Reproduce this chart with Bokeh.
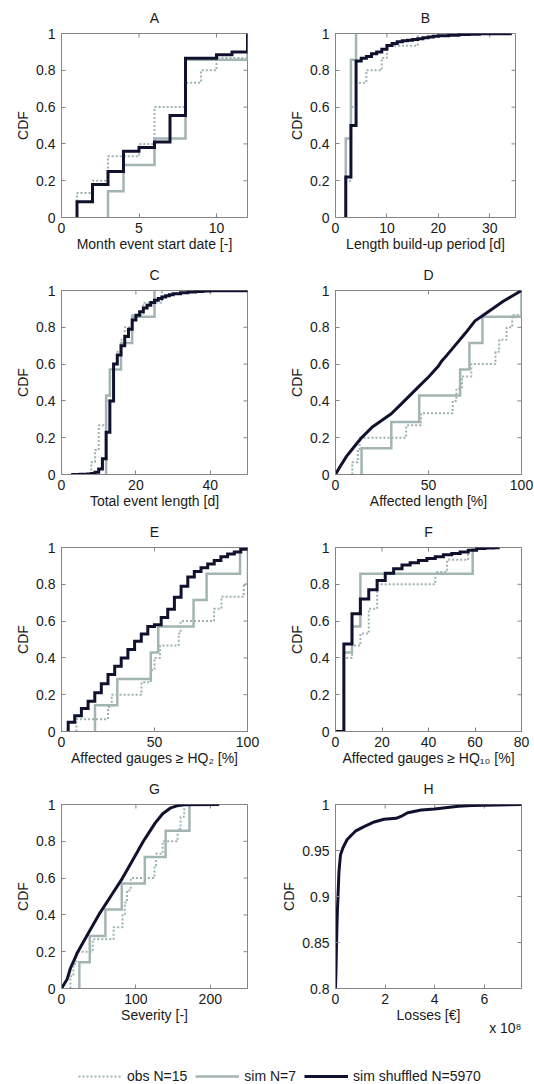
import math
from bokeh.plotting import figure
from bokeh.layouts import column, row
from bokeh.models import FixedTicker, LinearAxis, Range1d, Legend, LegendItem, Title, Spacer
from bokeh.embed import file_html
from bokeh.resources import INLINE

FONT = "Liberation Sans"
TXT = "#1a1a1a"
BOX = "#858585"
C_SHUF = "#10112e"
C_SIM = "#a3b5b3"
C_OBS = "#9cb2b1"

Y01_TICKS = [0, 0.2, 0.4, 0.6, 0.8, 1]
Y01_LABELS = ["0", "0.2", "0.4", "0.6", "0.8", "1"]

# ---- A: month event start date
A_obs_x = [1, 2, 3, 5, 6, 8, 9, 10, 12]
A_obs_y = [0.133, 0.2, 0.333, 0.4, 0.6, 0.733, 0.8, 0.867, 1.0]
A_sim_x = [3, 4, 6, 8, 12]
A_sim_y = [0.143, 0.286, 0.429, 0.857, 1.0]
A_shuf_x = [1, 2, 3, 4, 5, 6, 7, 8, 9, 10, 11, 12]
A_shuf_y = [0.085, 0.18, 0.25, 0.36, 0.38, 0.41, 0.555, 0.865, 0.865, 0.885, 0.9, 1.0]
A_xticks = [0, 5, 10]
A_xlabels = ["0", "5", "10"]

# ---- B: length build-up period
B_obs_x = [2, 3, 4, 6, 9, 10, 16]
B_obs_y = [0.2, 0.6, 0.733, 0.8, 0.867, 0.933, 1.0]
B_sim_x = [2, 3, 4]
B_sim_y = [0.429, 0.857, 1.0]
B_shuf_x = [2, 3, 4, 5, 6, 7, 8, 9, 10, 11, 12, 13, 14, 15, 16, 17, 18, 19, 20, 22, 24, 26, 28, 30, 34]
B_shuf_y = [0.22, 0.5, 0.85, 0.865, 0.875, 0.89, 0.9, 0.915, 0.935, 0.945, 0.955, 0.96, 0.963,
            0.967, 0.972, 0.977, 0.981, 0.985, 0.988, 0.991, 0.994, 0.996, 0.998, 0.999, 1.0]
B_xticks = [0, 10, 20, 30]
B_xlabels = ["0", "10", "20", "30"]

# ---- C: total event length
C_obs_x = [8, 9, 10, 12, 13, 14, 15, 16, 17, 19, 22, 27]
C_obs_y = [0.067, 0.133, 0.267, 0.4, 0.533, 0.6, 0.667, 0.733, 0.8, 0.867, 0.933, 1.0]
C_sim_x = [12, 13, 16, 19, 25]
C_sim_y = [0.429, 0.571, 0.714, 0.857, 1.0]
C_shuf_x = [3, 4, 5, 6, 7, 8, 9, 10, 11, 12, 13, 14, 15, 16, 17, 18, 19, 20, 21, 22, 23, 24, 25,
            26, 27, 28, 29, 30, 32, 34, 36, 38, 40, 44, 50]
C_shuf_y = [0.0002, 0.0005, 0.001, 0.002, 0.003, 0.006, 0.012, 0.03, 0.085, 0.23, 0.40, 0.60, 0.65,
            0.70, 0.75, 0.79, 0.84, 0.865, 0.885, 0.905, 0.92, 0.935, 0.947, 0.956, 0.964, 0.971,
            0.977, 0.982, 0.988, 0.992, 0.995, 0.997, 0.998, 0.999, 1.0]
C_xticks = [0, 20, 40]
C_xlabels = ["0", "20", "40"]

# ---- D: affected length
D_obs_x = [9, 12, 13, 38, 46, 63, 65, 68, 73, 86, 88, 92, 95, 100]
D_obs_y = [0.067, 0.133, 0.2, 0.267, 0.333, 0.4, 0.467, 0.533, 0.6, 0.667, 0.733, 0.8, 0.867, 1.0]
D_sim_x = [14, 30, 45, 67, 72, 79, 100]
D_sim_y = [0.143, 0.286, 0.429, 0.571, 0.714, 0.857, 1.0]
D_shuf_x = [0, 2, 6, 8, 12, 14, 20, 25, 30, 35, 40, 45, 50, 55, 57, 60, 65, 70, 75, 80, 85, 90, 95, 100]
D_shuf_y = [0, 0.035, 0.1, 0.125, 0.175, 0.2, 0.26, 0.295, 0.33, 0.38, 0.43, 0.48, 0.53, 0.585,
            0.615, 0.65, 0.71, 0.77, 0.835, 0.87, 0.905, 0.94, 0.97, 1.0]
D_xticks = [0, 50, 100]
D_xlabels = ["0", "50", "100"]

# ---- E: affected gauges >= HQ2
E_obs_x = [8, 25, 27, 43, 48, 50, 53, 63, 64, 82, 86, 98, 100]
E_obs_y = [0.067, 0.133, 0.2, 0.267, 0.333, 0.4, 0.467, 0.533, 0.6, 0.667, 0.733, 0.8, 1.0]
E_sim_x = [18, 30, 48, 52, 71, 78, 96]
E_sim_y = [0.143, 0.286, 0.429, 0.571, 0.714, 0.857, 1.0]
E_shuf_x = [3.6, 7.1, 10.7, 14.3, 17.9, 21.4, 25, 28.6, 32.1, 35.7, 39.3, 42.9, 46.4, 50, 53.6,
            57.1, 60.7, 64.3, 67.9, 71.4, 75, 78.6, 82.1, 85.7, 89.3, 92.9, 96.4, 100]
E_shuf_y = [0.05, 0.085, 0.125, 0.165, 0.21, 0.26, 0.31, 0.355, 0.40, 0.445, 0.49, 0.53, 0.57,
            0.58, 0.62, 0.665, 0.73, 0.79, 0.84, 0.87, 0.89, 0.91, 0.93, 0.95, 0.965, 0.975, 0.99, 1.0]
E_xticks = [0, 50, 100]
E_xlabels = ["0", "50", "100"]

# ---- F: affected gauges >= HQ10
F_obs_x = [3.6, 7.1, 10.7, 14.3, 17.9, 42.9, 48, 57]
F_obs_y = [0.4, 0.467, 0.533, 0.667, 0.8, 0.867, 0.933, 1.0]
F_sim_x = [3.6, 7.1, 10.7, 59]
F_sim_y = [0.429, 0.571, 0.857, 1.0]
F_shuf_x = [0, 3.6, 7.1, 10.7, 14.3, 17.9, 21.4, 25, 28.6, 32.1, 35.7, 39.3, 42.9, 46.4, 50, 53.6,
            57.1, 60.7, 64.3, 67.9, 70]
F_shuf_y = [0, 0.475, 0.64, 0.72, 0.77, 0.82, 0.86, 0.885, 0.905, 0.917, 0.93, 0.94, 0.95, 0.96,
            0.967, 0.976, 0.985, 0.994, 0.997, 0.999, 1.0]
F_xticks = [0, 20, 40, 60, 80]
F_xlabels = ["0", "20", "40", "60", "80"]

# ---- G: severity
G_obs_x = [12, 16, 20, 42, 70, 82, 85, 88, 93, 125, 127, 136, 156, 160, 165]
G_obs_y = [0.067, 0.133, 0.2, 0.267, 0.333, 0.4, 0.467, 0.533, 0.6, 0.667, 0.733, 0.8, 0.867, 0.933, 1.0]
G_sim_x = [24, 38, 59, 81, 112, 140, 172]
G_sim_y = [0.143, 0.286, 0.429, 0.571, 0.714, 0.857, 1.0]
G_shuf_x = [0, 3, 7.6, 12, 22, 36, 50, 66, 82, 96, 110, 118, 126, 136, 146, 155, 165, 212]
G_shuf_y = [0, 0.02, 0.05, 0.11, 0.2, 0.3, 0.4, 0.5, 0.6, 0.7, 0.8, 0.85, 0.9, 0.95, 0.98, 0.993, 0.999, 1.0]
G_xticks = [0, 100, 200]
G_xlabels = ["0", "100", "200"]

# ---- H: losses (units of 1e8 EUR)
H_shuf_x = [0, 0.02, 0.04, 0.07, 0.1, 0.14, 0.2, 0.3, 0.47, 0.8, 1.15, 1.56, 1.96, 2.44, 2.64,
            2.91, 3.46, 4.0, 4.95, 5.5, 7.5]
H_shuf_y = [0.8, 0.82, 0.848, 0.88, 0.9, 0.927, 0.945, 0.953, 0.962, 0.971, 0.976, 0.981, 0.984,
            0.985, 0.987, 0.991, 0.994, 0.995, 0.998, 0.999, 1.0]
H_xticks = [0, 2, 4, 6]
H_xlabels = ["0", "2", "4", "6"]
H_yticks = [0.8, 0.85, 0.9, 0.95, 1]
H_ylabels = ["0.8", "0.85", "0.9", "0.95", "1"]
H_exponent = "x 10\u2078"

LEGEND_LABELS = ["obs N=15", "sim N=7", "sim shuffled N=5970"]

ROW_GAP = 5      # blank strip above every row of panels
FIG_H = 252      # figure height below that strip
LAST_EXTRA = 15  # extra room below the last row (for the x 10^8 note)


def style_axis(ax, ticks, labels, standoff):
    ax.ticker = FixedTicker(ticks=ticks)
    ax.major_label_overrides = dict(zip(ticks, labels))
    ax.major_tick_in = 4
    ax.major_tick_out = 0
    ax.minor_tick_line_color = None
    ax.major_tick_line_color = BOX
    ax.axis_line_color = BOX
    ax.major_label_text_font = FONT
    ax.major_label_text_font_size = "14px"
    ax.major_label_text_color = TXT
    ax.major_label_standoff = standoff
    ax.axis_label_text_font = FONT
    ax.axis_label_text_font_size = "14px"
    ax.axis_label_text_font_style = "normal"
    ax.axis_label_text_color = TXT


def panel(title, xlabel, xr, xticks, xlabels, yr, yticks, ylabels, lb, fw,
          obs=None, sim=None, shuf=None, shuf_step=True, height=FIG_H, bottom=40):
    p = figure(width=267, height=height, x_range=Range1d(*xr), y_range=Range1d(*yr),
               output_backend="svg", toolbar_location=None,
               min_border_left=lb, min_border_right=267 - lb - fw,
               min_border_top=28, min_border_bottom=bottom)
    p.grid.visible = False
    p.outline_line_color = BOX
    p.outline_line_width = 1
    p.background_fill_color = "white"
    p.border_fill_color = "white"
    style_axis(p.xaxis[0], xticks, xlabels, 5)
    style_axis(p.yaxis[0], yticks, ylabels, 6)
    p.xaxis[0].axis_label = xlabel
    p.xaxis[0].axis_label_standoff = 0
    p.yaxis[0].axis_label = "CDF"
    p.yaxis[0].axis_label_standoff = 2
    # panel letter as the label of a tick-less axis above the frame
    top = LinearAxis(ticker=FixedTicker(ticks=[]), axis_label=title)
    top.axis_line_color = None
    top.major_tick_line_color = None
    top.minor_tick_line_color = None
    top.major_label_standoff = 0
    top.axis_label_standoff = 8
    top.axis_label_text_font = FONT
    top.axis_label_text_font_size = "14px"
    top.axis_label_text_font_style = "normal"
    top.axis_label_text_color = TXT
    p.add_layout(top, "above")
    # mirrored inside ticks on the top and right edges (half of each dash is clipped by the frame)
    p.scatter(x=xticks, y=[yr[1]] * len(xticks), marker="dash", angle=math.pi / 2, size=8,
              line_color=BOX, line_width=1)
    p.scatter(x=[xr[1]] * len(yticks), y=yticks, marker="dash", size=8,
              line_color=BOX, line_width=1)
    if obs is not None:
        x, y = obs
        p.step(x=[x[0]] + list(x), y=[0] + list(y), mode="after", line_color=C_OBS,
               line_width=2, line_dash="2 2")
    if sim is not None:
        x, y = sim
        p.step(x=[x[0]] + list(x), y=[0] + list(y), mode="after", line_color=C_SIM,
               line_width=2.5, line_join="miter")
    if shuf is not None:
        x, y = shuf
        if shuf_step:
            p.step(x=[x[0]] + list(x), y=[0] + list(y), mode="after", line_color=C_SHUF,
                   line_width=3, line_join="miter")
        else:
            p.line(x=list(x), y=list(y), line_color=C_SHUF, line_width=3)
    return p


pA = panel("A", "Month event start date [-]", (0, 12), A_xticks, A_xlabels, (0, 1), Y01_TICKS, Y01_LABELS,
           61, 186, (A_obs_x, A_obs_y), (A_sim_x, A_sim_y), (A_shuf_x, A_shuf_y))
pB = panel("B", "Length build-up period [d]", (0, 35), B_xticks, B_xlabels, (0, 1), Y01_TICKS, Y01_LABELS,
           68, 180, (B_obs_x, B_obs_y), (B_sim_x, B_sim_y), (B_shuf_x, B_shuf_y))
pC = panel("C", "Total event length [d]", (0, 50), C_xticks, C_xlabels, (0, 1), Y01_TICKS, Y01_LABELS,
           61, 186, (C_obs_x, C_obs_y), (C_sim_x, C_sim_y), (C_shuf_x, C_shuf_y))
pD = panel("D", "Affected length [%]", (0, 100), D_xticks, D_xlabels, (0, 1), Y01_TICKS, Y01_LABELS,
           68, 186, (D_obs_x, D_obs_y), (D_sim_x, D_sim_y), (D_shuf_x, D_shuf_y), shuf_step=False)
pE = panel("E", "Affected gauges \u2265 HQ\u2082 [%]", (0, 100), E_xticks, E_xlabels, (0, 1), Y01_TICKS, Y01_LABELS,
           61, 186, (E_obs_x, E_obs_y), (E_sim_x, E_sim_y), (E_shuf_x, E_shuf_y))
pF = panel("F", "Affected gauges \u2265 HQ\u2081\u2080 [%]", (0, 80), F_xticks, F_xlabels, (0, 1), Y01_TICKS, Y01_LABELS,
           68, 186, (F_obs_x, F_obs_y), (F_sim_x, F_sim_y), (F_shuf_x, F_shuf_y))
pG = panel("G", "Severity [-]", (0, 250), G_xticks, G_xlabels, (0, 1), Y01_TICKS, Y01_LABELS,
           61, 186, (G_obs_x, G_obs_y), (G_sim_x, G_sim_y), (G_shuf_x, G_shuf_y), shuf_step=False,
           height=FIG_H + LAST_EXTRA, bottom=40 + LAST_EXTRA)
pH = panel("H", "Losses [\u20ac]", (0, 7.5), H_xticks, H_xlabels, (0.8, 1), H_yticks, H_ylabels,
           68, 186, None, None, (H_shuf_x, H_shuf_y), shuf_step=False,
           height=FIG_H + LAST_EXTRA, bottom=40 + LAST_EXTRA)
pH.add_layout(Title(text=H_exponent, align="right", vertical_align="top", standoff=-12,
                    text_font=FONT, text_font_size="14px", text_font_style="normal",
                    text_color=TXT), "below")

# legend strip
lf = figure(width=534, height=1084 - 4 * ROW_GAP - 3 * FIG_H - (FIG_H + LAST_EXTRA),
            x_range=Range1d(0, 1), y_range=Range1d(0, 1),
            output_backend="svg", toolbar_location=None, min_border=0,
            x_axis_location=None, y_axis_location=None)
lf.grid.visible = False
lf.outline_line_color = None
r1 = lf.line(x=[2, 3], y=[2, 3], line_color=C_OBS, line_width=2, line_dash="2 2")
r2 = lf.line(x=[2, 3], y=[2, 3], line_color=C_SIM, line_width=2.5)
r3 = lf.line(x=[2, 3], y=[2, 3], line_color=C_SHUF, line_width=3)
leg = Legend(items=[LegendItem(label=LEGEND_LABELS[0], renderers=[r1]),
                    LegendItem(label=LEGEND_LABELS[1], renderers=[r2]),
                    LegendItem(label=LEGEND_LABELS[2], renderers=[r3])],
             orientation="horizontal", location=(78, 0), padding=0, margin=0, spacing=8,
             label_standoff=5, glyph_width=44, glyph_height=14, label_height=14,
             label_text_font=FONT, label_text_font_size="14px", label_text_color=TXT,
             border_line_color=None, background_fill_alpha=0)
lf.add_layout(leg)


def gap():
    return Spacer(width=534, height=ROW_GAP)


layout = column(gap(), row(pA, pB), gap(), row(pC, pD), gap(), row(pE, pF), gap(), row(pG, pH), lf)
open("out.html", "w").write(file_html(layout, INLINE))
